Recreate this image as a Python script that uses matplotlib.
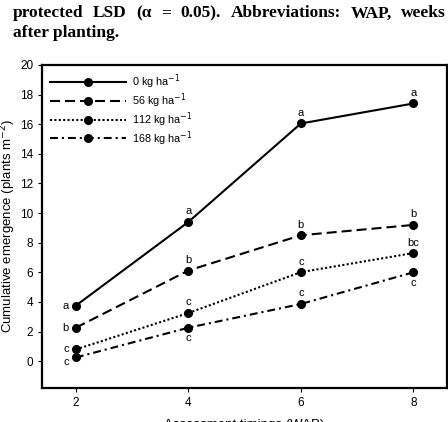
import matplotlib.pyplot as plt

weeks = [2, 4, 6, 8]
rates = ["0", "56", "112", "168"]
emergence = [
    [3.75, 9.4, 16.05, 17.4],
    [2.26, 6.12, 8.5, 9.2],
    [0.79, 3.25, 6.01, 7.3],
    [0.25, 2.26, 3.86, 6.0],
]
# letters from the LSD test, per rate and timing
letters = [
    ["a", "a", "a", "a"],
    ["b", "b", "b", "b"],
    ["c", "c", "c", "bc"],
    ["c", "c", "c", "c"],
]
# where each letter sits: 'l' left, 'u' above, 'd' below
where = [
    ["l", "u", "u", "u"],
    ["l", "u", "u", "u"],
    ["l", "u", "u", "u"],
    ["l", "d", "u", "d"],
]
caption1 = "protected LSD (\u03b1 = 0.05). Abbreviations: WAP, weeks"
caption2 = "after planting."

styles = ["-", (0, (4.8, 2.4)), (0, (1, 1.1)), (0, (3.8, 1.9, 1, 1.9))]

plt.rcParams['font.family'] = ['Liberation Sans', 'DejaVu Sans']

fig = plt.figure(figsize=(4.48, 4.22), dpi=100)
ax = fig.add_axes([0.094, 0.081, 0.904, 0.765])

for vals, ls, r in zip(emergence, styles, rates):
    ax.plot(weeks, vals, linestyle=ls, color='black', linewidth=1.5,
            marker='o', markersize=5.5, label=r + " kg ha$^{-1}$")

for i, (vals, labs, pos) in enumerate(zip(emergence, letters, where)):
    for x, y, t, p in zip(weeks, vals, labs, pos):
        if p == 'l':
            dy = -3 if i == 3 else 0
            ax.annotate(t, (x, y), xytext=(-5, dy), textcoords='offset points',
                        ha='right', va='center', fontsize=8)
        elif p == 'u':
            ax.annotate(t, (x, y), xytext=(0, 4), textcoords='offset points',
                        ha='center', va='bottom', fontsize=8)
        else:
            ax.annotate(t, (x, y), xytext=(0, -4), textcoords='offset points',
                        ha='center', va='top', fontsize=8)

ax.set_xlim(1.4, 8.6)
ax.set_xticks(weeks)
ax.set_ylim(-1.8, 20)
ax.set_yticks(range(0, 21, 2))
ax.tick_params(direction='out', length=3, labelsize=8.5)
for s in ax.spines.values():
    s.set_linewidth(1.6)

ax.set_xlabel("Assessment timings (WAP)", fontsize=9.5, labelpad=7)
ax.set_ylabel("Cumulative emergence (plants m$^{-2}$)", fontsize=9.5, labelpad=1)

ax.legend(loc='upper left', frameon=False, fontsize=7.8, handlelength=7.0,
          borderaxespad=0.3, labelspacing=0.02, handletextpad=0.6)

# justified first caption line: spread the words across the width
fig.canvas.draw()
r = fig.canvas.get_renderer()
words = caption1.split(" ")
objs = [fig.text(0, 0.987, w, family='Liberation Serif', weight='bold',
                 fontsize=12.5, va='top', ha='left') for w in words]
widths = [o.get_window_extent(r).width for o in objs]
x0, x1 = 13, 446
gap = (x1 - x0 - sum(widths)) / (len(words) - 1)
x = x0
for o, w in zip(objs, widths):
    o.set_x(x / 448)
    x += w + gap
fig.text(13 / 448, 0.94, caption2, family='Liberation Serif', weight='bold',
         fontsize=12.5, va='top', ha='left')

fig.savefig("out.png", dpi=100)
